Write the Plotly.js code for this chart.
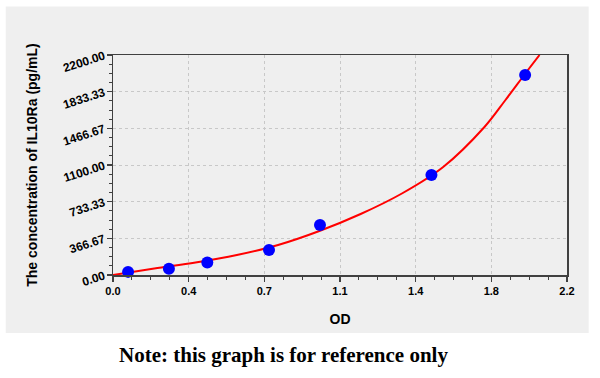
<!DOCTYPE html>
<html>
<head>
<meta charset="utf-8">
<script src="https://cdn.plot.ly/plotly-3.0.1.min.js"></script>
<style>
html,body{margin:0;padding:0;background:#ffffff;}
#chart{width:600px;height:378px;}
</style>
</head>
<body>
<div id="chart"></div>
<script>
// Standard points (OD vs concentration)
var pointOD = [0.073, 0.271, 0.457, 0.756, 1.003, 1.543, 1.997];
var pointConc = [31.25, 62.5, 125, 250, 500, 1000, 2000];

// Fitted curve
var curveOD = [0, 0.2, 0.4, 0.6, 0.8, 1.0, 1.2, 1.4, 1.6, 1.8, 1.9, 2.0, 2.067];
var curveConc = [0, 65, 125, 200, 300, 440, 610, 815, 1080, 1480, 1745, 2020, 2200];

// Axis ticks
var xTickVals = [0, 0.36667, 0.73333, 1.1, 1.46667, 1.83333, 2.2];
var xTickText = ["0.0", "0.4", "0.7", "1.1", "1.4", "1.8", "2.2"];
var yTickVals = [0, 366.67, 733.33, 1100, 1466.67, 1833.33, 2200];
var yTickText = ["0.00", "366.67", "733.33", "1100.00", "1466.67", "1833.33", "2200.00"];

var traces = [
  {
    x: curveOD, y: curveConc, type: 'scatter', mode: 'lines',
    line: {color: '#ff0000', width: 2, shape: 'spline', smoothing: 1},
    hoverinfo: 'skip', showlegend: false
  },
  {
    x: pointOD, y: pointConc, type: 'scatter', mode: 'markers',
    marker: {color: '#0000ff', size: 12, line: {width: 0}},
    showlegend: false, cliponaxis: false
  }
];

var xFont = {family: 'Liberation Sans, Arial, sans-serif', size: 11, color: '#000000', weight: 'bold'};
var yFont = {family: 'Liberation Sans, Arial, sans-serif', size: 12, color: '#000000', weight: 'bold'};

var layout = {
  width: 600, height: 378,
  margin: {l: 113, r: 33, t: 55, b: 103},
  paper_bgcolor: '#ffffff',
  plot_bgcolor: '#ffffff',
  showlegend: false,
  xaxis: {
    range: [0, 2.2], fixedrange: true,
    tickmode: 'array', tickvals: xTickVals, ticktext: xTickText,
    ticks: 'outside', ticklen: 5, tickwidth: 1.5, tickcolor: '#404040',
    showline: true, linecolor: '#404040', linewidth: 1.5, mirror: true,
    showgrid: true, gridcolor: '#c8c8c8', griddash: 'dot', gridwidth: 1,
    zeroline: false,
    tickfont: xFont,
    minor: {tickmode: 'linear', tick0: 0, dtick: 0.0916667, ticks: 'outside', ticklen: 3, tickwidth: 1, tickcolor: '#404040', showgrid: false},
    title: {text: 'OD', font: {family: 'Liberation Sans, Arial, sans-serif', size: 14, color: '#000000', weight: 'bold'}, standoff: 18},
    automargin: false
  },
  yaxis: {
    range: [0, 2200], fixedrange: true,
    tickmode: 'array', tickvals: yTickVals, ticktext: yTickText,
    tickangle: -18,
    ticks: 'outside', ticklen: 5, tickwidth: 1.5, tickcolor: '#404040',
    showline: true, linecolor: '#404040', linewidth: 1.5, mirror: true,
    showgrid: true, gridcolor: '#c8c8c8', griddash: 'dot', gridwidth: 1,
    zeroline: false,
    tickfont: yFont,
    minor: {tickmode: 'linear', tick0: 0, dtick: 91.6667, ticks: 'outside', ticklen: 3, tickwidth: 1, tickcolor: '#404040', showgrid: false},
    title: {text: 'The concentration of IL10Ra (pg/mL)', font: {family: 'Liberation Sans, Arial, sans-serif', size: 14, color: '#000000', weight: 'bold'}, standoff: 20},
    automargin: false
  },
  shapes: [
    {type: 'rect', xref: 'paper', yref: 'paper', layer: 'below',
     x0: -0.2363, x1: 1.0478, y0: -0.2641, y1: 1.2204,
     fillcolor: '#efefef', line: {width: 0}}
  ],
  annotations: [
    {text: 'Note: this graph is for reference only', xref: 'paper', yref: 'paper',
     x: 0.376, y: -0.364, xanchor: 'center', yanchor: 'middle', showarrow: false,
     font: {family: 'Liberation Serif, Times New Roman, serif', size: 21, color: '#000000', weight: 'bold'}}
  ]
};

Plotly.newPlot('chart', traces, layout, {displayModeBar: false, staticPlot: true});
</script>
</body>
</html>
